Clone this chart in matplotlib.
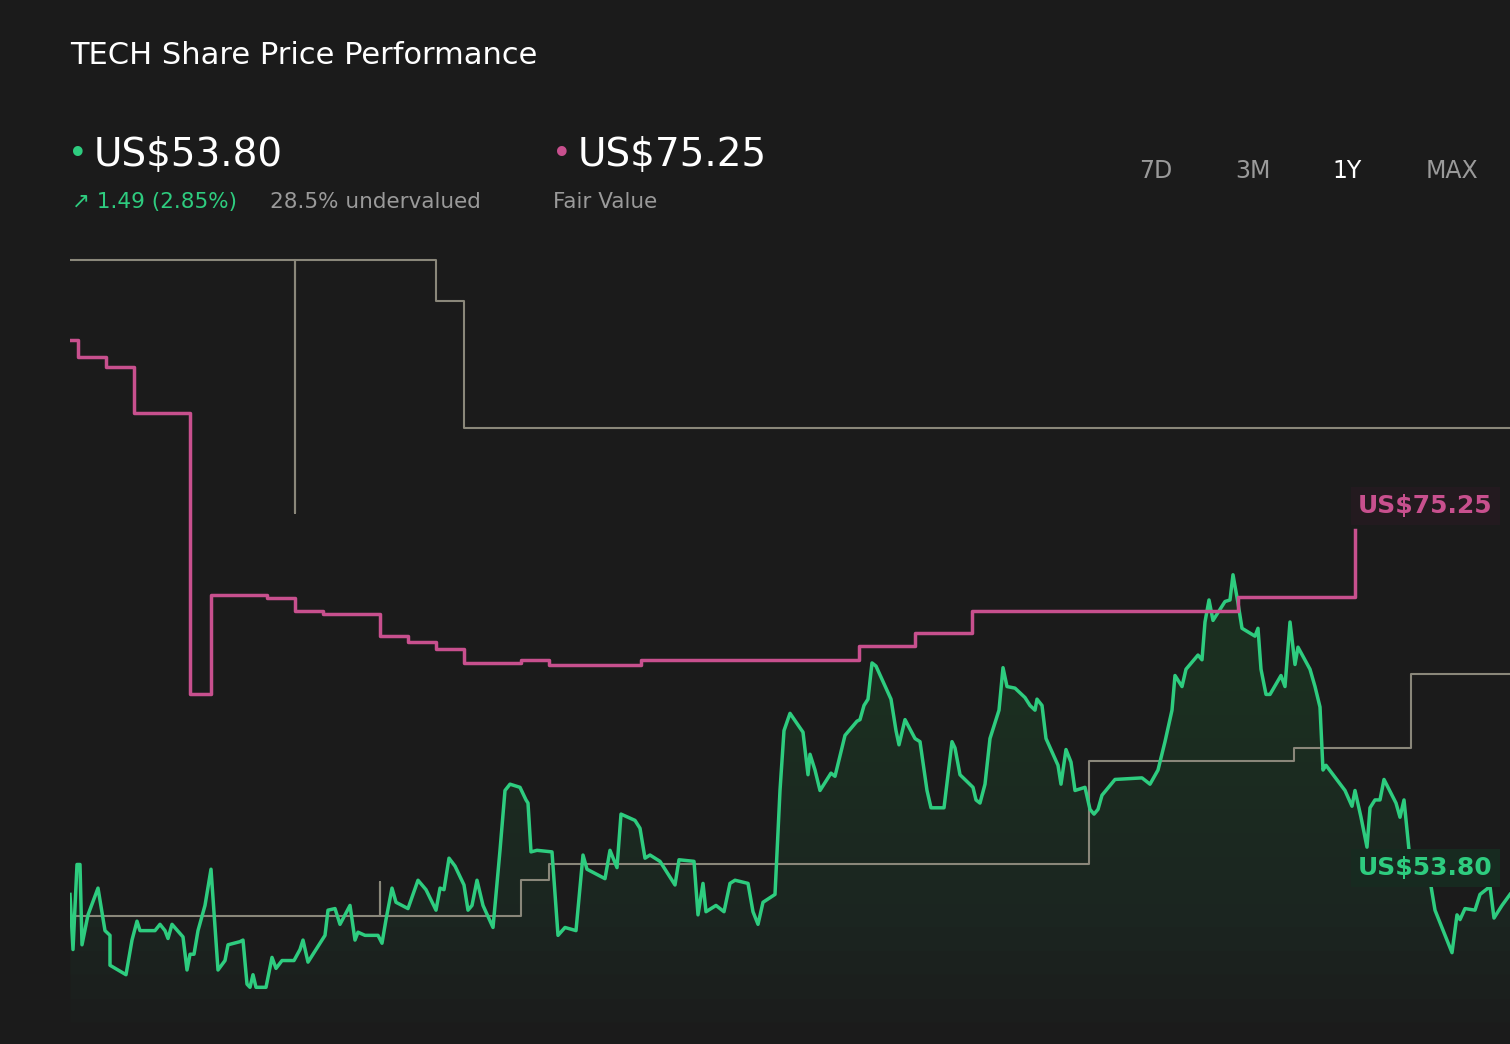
import matplotlib
matplotlib.use("Agg")
import matplotlib.pyplot as plt

# time units (0..1440 across the year), prices in US$
price_t = [0,3,7,10,12,18,28,35,40,40,56,62,67,70,85,90,95,98,102,113,117,120,124,128,135,141,148,155,158,170,173,177,180,183,186,196,202,206,212,224,230,233,238,255,258,265,270,280,285,288,295,308,312,316,322,326,338,348,356,366,370,374,379,385,394,398,402,407,413,423,430,435,440,450,456,458,461,467,482,488,495,506,513,517,535,540,547,551,565,570,575,580,590,605,609,624,628,633,636,646,654,660,665,678,683,688,693,705,710,714,720,733,738,740,745,750,761,765,775,787,790,794,798,802,806,821,826,829,835,845,850,857,861,874,882,885,890,903,906,910,915,920,929,933,937,945,955,960,965,967,972,976,988,991,996,1001,1005,1015,1020,1024,1028,1032,1045,1072,1080,1088,1095,1102,1105,1112,1116,1128,1132,1135,1139,1143,1155,1160,1163,1168,1172,1185,1188,1191,1196,1200,1211,1215,1220,1225,1228,1240,1245,1250,1253,1256,1275,1282,1285,1291,1297,1300,1305,1310,1314,1326,1330,1334,1340,1347,1360,1365,1382,1387,1390,1395,1405,1410,1420,1424,1432,1440]
price = [52.1,48.6,54.0,54.0,48.9,50.8,52.5,49.8,49.5,47.6,47.0,49.2,50.4,49.8,49.8,50.2,49.8,49.3,50.2,49.4,47.3,48.3,48.3,49.8,51.4,53.7,47.3,47.9,48.9,49.1,49.2,46.4,46.2,47.0,46.2,46.2,48.1,47.4,47.9,47.9,48.6,49.2,47.8,49.5,51.1,51.2,50.2,51.4,49.2,49.7,49.5,49.5,49.0,50.5,52.5,51.6,51.2,53.0,52.4,51.1,52.5,52.4,54.4,53.9,52.7,51.1,51.4,53.0,51.4,50.0,54.9,58.7,59.1,58.9,58.1,57.9,54.8,54.9,54.8,49.5,50.0,49.8,54.6,53.7,53.1,54.9,53.8,57.2,56.8,56.3,54.4,54.6,54.2,52.7,54.3,54.2,50.8,52.8,51.0,51.4,51.0,52.8,53.0,52.8,51.0,50.2,51.6,52.1,58.7,62.5,63.6,62.4,59.7,61.0,60.0,58.7,59.8,59.6,62.2,63.1,63.2,64.1,64.5,66.8,66.6,64.5,62.5,61.6,63.2,62.0,61.8,58.7,57.6,57.6,61.8,61.4,59.7,58.9,58.1,57.9,59.1,62.0,63.8,66.5,65.3,65.2,64.6,64.1,63.8,64.5,64.1,62.0,60.3,59.1,61.3,60.5,58.7,58.9,57.5,57.2,57.5,58.4,59.4,59.5,59.1,60.0,61.8,63.8,66.0,65.3,66.4,67.3,67.0,69.4,70.8,69.5,70.7,70.8,72.4,70.6,69.0,68.5,69.0,66.4,64.8,64.8,66.0,65.3,69.4,66.7,67.8,66.4,65.3,64.0,60.0,60.3,58.7,57.7,58.7,57.0,55.1,57.6,58.1,58.1,59.4,57.9,57.0,58.1,54.3,53.5,53.0,51.1,48.4,50.8,50.5,51.2,51.1,52.1,52.6,50.6,51.4,52.1]

fair_t = [0,8,36,64,120,141,197,225,253,310,338,366,394,451,479,571,789,845,902,1168,1285,1440]
fair_v = [87.3,86.2,85.6,82.7,64.8,71.1,70.9,70.1,69.9,68.5,68.1,67.7,66.8,67.0,66.7,67.0,67.9,68.7,70.1,71.0,75.25,75.25]
fair_end = 1285

upper_t = [0,225,225,225,366,394,1440]
upper_v = [92.4,92.4,76.3,92.4,89.8,81.7,81.7]
lower_t = [0,310,310,310,451,479,1019,1224,1341,1440]
lower_v = [50.7,50.7,52.9,50.7,53.0,54.0,60.6,61.4,66.1,66.1]

BG = '#1b1b1b'; GREEN = '#2ecc7f'; PINK = '#c8508e'; GREY = '#8a877a'
YMIN, YMAX = 42.6, 108.9
fig = plt.figure(figsize=(15.1, 10.44), dpi=100, facecolor=BG)
ax = fig.add_axes([70/1510, 0, 1440/1510, 1])
ax.set_facecolor(BG)
ax.set_xlim(0, 1440); ax.set_ylim(YMIN, YMAX)
ax.axis('off')

ax.plot(upper_t, upper_v, color=GREY, lw=1.5, drawstyle='steps-post')
ax.plot(lower_t, lower_v, color=GREY, lw=1.5, drawstyle='steps-post')
# faded fill under price (stacked translucent bands toward the top)
base = 44.0
levels = [base + i * 1.5 for i in range(20)]
for lv in levels:
    ax.fill_between(price_t, price, lv, where=[p > lv for p in price],
                    color='#1f3a2b', alpha=0.09, lw=0, interpolate=True)
ax.plot(price_t, price, color=GREEN, lw=2.5)
ft = [t for t in fair_t if t <= fair_end]
fv = fair_v[:len(ft)]
ax.plot(ft, fv, color=PINK, lw=2.5, drawstyle='steps-post')

ax.text(1288, 75.25 + 1.5, 'US$75.25', color=PINK, fontsize=18, fontweight='bold', va='center',
        bbox=dict(facecolor='#231a1f', edgecolor='none', pad=5))
ax.text(1288, 53.8, 'US$53.80', color=GREEN, fontsize=18, fontweight='bold', va='center',
        bbox=dict(facecolor='#172a20', edgecolor='none', pad=5))

fig.text(70/1510, 1-55/1044, 'TECH Share Price Performance', color='white', fontsize=22, va='center')
fig.text(68/1510, 1-155/1044, '•', color=GREEN, fontsize=24, va='center')
fig.text(94/1510, 1-155/1044, 'US$53.80', color='white', fontsize=28, va='center')
fig.text(552/1510, 1-155/1044, '•', color=PINK, fontsize=24, va='center')
fig.text(578/1510, 1-155/1044, 'US$75.25', color='white', fontsize=28, va='center')
fig.text(72/1510, 1-202/1044, '↗ 1.49 (2.85%)', color=GREEN, fontsize=15.5, va='center')
fig.text(270/1510, 1-202/1044, '28.5% undervalued', color='#9a9a9a', fontsize=15.5, va='center')
fig.text(553/1510, 1-202/1044, 'Fair Value', color='#9a9a9a', fontsize=15.5, va='center')
for lab, x, c in [('7D', 1156, '#9a9a9a'), ('3M', 1253, '#9a9a9a'), ('1Y', 1347, 'white'), ('MAX', 1452, '#9a9a9a')]:
    fig.text(x/1510, 1-171/1044, lab, color=c, fontsize=17, va='center', ha='center')

fig.savefig('out.png', dpi=100, facecolor=BG)
